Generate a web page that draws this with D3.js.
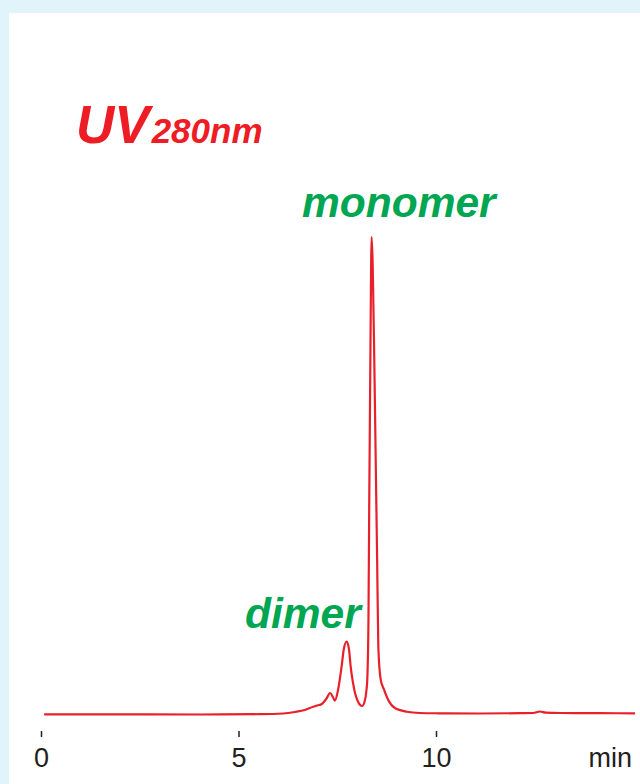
<!DOCTYPE html>
<html>
<head>
<meta charset="utf-8">
<script src="https://cdn.jsdelivr.net/npm/d3@7"></script>
<style>
  html, body { margin: 0; padding: 0; background: #e1f3fb; }
  svg { display: block; }
</style>
</head>
<body>
<svg id="chart" width="640" height="784"></svg>
<script>
// ---- data (retention time in min, absorbance in relative units, monomer = 100) ----
const timeMin = [0.08, 1.49, 4.03, 5.54, 6.13, 6.43, 6.68, 6.89, 7.01, 7.11, 7.22, 7.32, 7.39, 7.44,
  7.52, 7.61, 7.67, 7.74, 7.80, 7.84, 7.90, 7.95, 8.03, 8.08, 8.13, 8.19, 8.24, 8.26, 8.29, 8.31,
  8.34, 8.37, 8.43, 8.47, 8.51, 8.54, 8.60, 8.68, 8.79, 8.96, 9.26, 9.59, 10.10, 11.11, 12.13,
  12.46, 12.63, 12.78, 13.14, 14.15, 15.04];
const absorbance = [-0.06, -0.06, -0.10, -0.04, 0.10, 0.42, 0.84, 1.53, 1.82, 2.10, 3.14, 4.40, 3.56, 2.79,
  5.03, 9.92, 13.8, 15.2, 13.4, 9.92, 6.50, 4.40, 2.52, 1.89, 1.68, 2.52, 5.03, 7.13, 19.6, 44.7,
  76.1, 100, 78.4, 55.3, 32.3, 14.0, 7.2, 5.2, 2.94, 1.26, 0.48, 0.21, 0.15, 0.10, 0.17,
  0.21, 0.52, 0.29, 0.21, 0.17, 0.15];
const tickValues = [0, 5, 10];
const tickLabels = ["0", "5", "10"];
const unitLabel = "min";
const peakLabels = ["monomer", "dimer"];
const titleMain = "UV";
const titleSub = "280nm";

// ---- drawing ----
const svg = d3.select("#chart");
const W = 640, H = 784;
const FONT = "'Liberation Sans', Arial, Helvetica, sans-serif";

svg.append("rect").attr("x", 0).attr("y", 0).attr("width", W).attr("height", H).attr("fill", "#e1f3fb");
svg.append("rect").attr("x", 9).attr("y", 13).attr("width", W - 9).attr("height", H - 13).attr("fill", "#ffffff");

const x = d3.scaleLinear().domain([0, 15]).range([41, 633.5]);
const y = d3.scaleLinear().domain([0, 100]).range([714, 237]);

const data = timeMin.map((t, i) => ({ t, v: absorbance[i] }));

const line = d3.line()
  .x(d => x(d.t))
  .y(d => y(d.v))
  .curve(d3.curveMonotoneX);

svg.append("path")
  .datum(data)
  .attr("d", line)
  .attr("fill", "none")
  .attr("stroke", "#e8202a")
  .attr("stroke-width", 2.2)
  .attr("stroke-linejoin", "round");

// axis
const axis = d3.axisBottom(x)
  .tickValues(tickValues)
  .tickFormat((d, i) => tickLabels[i])
  .tickSize(6)
  .tickPadding(11);

const gAxis = svg.append("g").attr("transform", "translate(0,731)").call(axis);
gAxis.select(".domain").remove();
gAxis.selectAll(".tick line").attr("stroke", "#231f20").attr("stroke-width", 1.5);
gAxis.selectAll(".tick text")
  .attr("fill", "#231f20")
  .style("font-family", FONT)
  .style("font-size", "27px");

svg.append("text")
  .attr("x", 632).attr("y", 767)
  .attr("text-anchor", "end")
  .attr("fill", "#231f20")
  .style("font-family", FONT)
  .style("font-size", "27px")
  .text(unitLabel);

// title
const title = svg.append("text")
  .attr("x", 76).attr("y", 143)
  .attr("fill", "#ee1c25")
  .style("font-family", FONT)
  .style("font-weight", "bold")
  .style("font-style", "italic");
title.append("tspan").style("font-size", "53px").text(titleMain);
title.append("tspan").attr("dx", 2).style("font-size", "35px").text(titleSub);

// peak labels
svg.append("text")
  .attr("x", 302).attr("y", 217)
  .attr("fill", "#00a651")
  .style("font-family", FONT)
  .style("font-weight", "bold")
  .style("font-style", "italic")
  .style("font-size", "42.5px")
  .text(peakLabels[0]);

svg.append("text")
  .attr("x", 245).attr("y", 628)
  .attr("fill", "#00a651")
  .style("font-family", FONT)
  .style("font-weight", "bold")
  .style("font-style", "italic")
  .style("font-size", "42.5px")
  .text(peakLabels[1]);
</script>
</body>
</html>
